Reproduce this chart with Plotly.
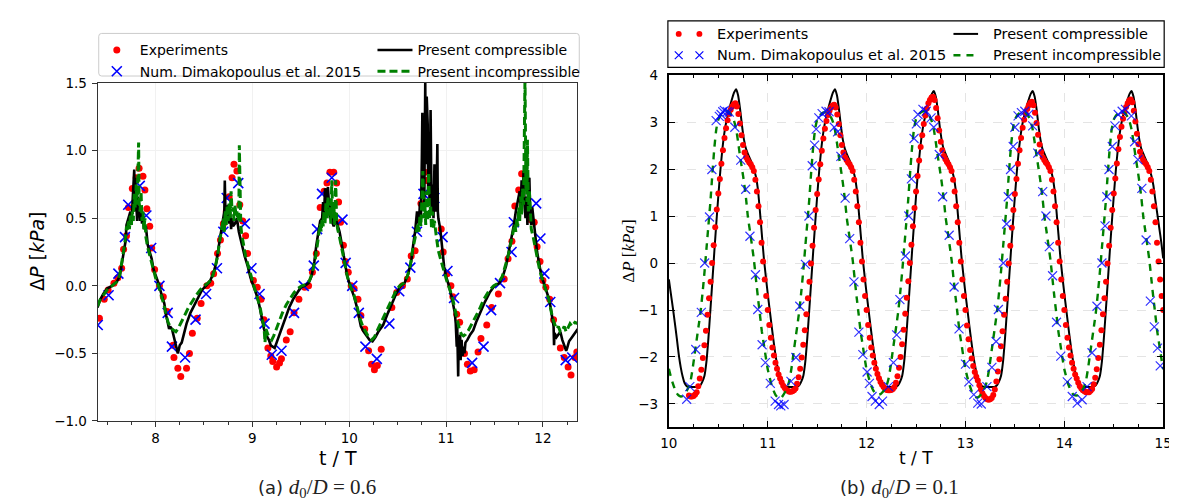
import numpy as np
import plotly.graph_objects as go

W, H = 1177, 503

# ================= panel (a): d0/D = 0.6 =================
exp_a = [(7.42,-0.24),(7.47,-0.10),(7.51,-0.03),(7.57,0.02),(7.61,0.06),(7.65,0.13),(7.67,0.27),(7.70,0.37),
         (7.72,0.58),(7.76,0.72),(7.80,0.80),(7.83,0.87),(7.87,0.81),(7.89,0.71),(7.91,0.57),(7.94,0.44),
         (7.96,0.28),(7.99,0.12),(8.04,0.00),(8.08,-0.08),(8.12,-0.19),(8.18,-0.44),(8.19,-0.53),(8.23,-0.61),
         (8.26,-0.67),(8.32,-0.61),(8.35,-0.50),(8.38,-0.35),(8.43,-0.24),(8.47,-0.13),(8.53,0.00),(8.57,0.02),
         (8.60,0.09),(8.64,0.24),(8.67,0.34),
         (8.70,0.46),(8.73,0.55),(8.76,0.66),(8.79,0.80),(8.81,0.90),(8.84,0.85),(8.87,0.60),(8.90,0.48),
         (8.93,0.37),(8.95,0.24),(9.01,0.04),(9.05,-0.01),(9.09,-0.10),(9.12,-0.25),(9.16,-0.46),(9.19,-0.52),
         (9.21,-0.56),(9.25,-0.60),(9.28,-0.57),(9.30,-0.54),(9.35,-0.40),(9.39,-0.34),(9.43,-0.20),(9.48,-0.10),
         (9.54,-0.01),(9.58,0.00),(9.62,0.10),(9.66,0.24),(9.70,0.58),
         (9.74,0.70),(9.77,0.76),(9.80,0.84),(9.84,0.84),(9.87,0.76),(9.89,0.62),(9.91,0.47),(9.94,0.30),
         (9.96,0.18),(9.99,0.10),(10.02,0.00),(10.05,-0.02),(10.09,-0.10),(10.12,-0.22),(10.16,-0.32),
         (10.20,-0.48),(10.23,-0.58),(10.26,-0.62),(10.29,-0.59),(10.33,-0.47),(10.44,-0.16),(10.49,-0.05),
         (10.55,0.00),(10.60,0.05),(10.64,0.22),(10.68,0.26),
         (10.74,0.61),(10.78,0.84),(10.80,0.78),(10.95,0.42),(10.97,0.25),(11.01,0.09),(11.05,0.00),(11.07,-0.08),
         (11.11,-0.21),(11.14,-0.27),(11.19,-0.50),(11.22,-0.58),(11.25,-0.63),(11.29,-0.62),(11.33,-0.49),
         (11.36,-0.39),(11.42,-0.29),(11.47,-0.16),(11.54,-0.06),(11.60,0.05),(11.64,0.20),(11.68,0.33),
         (11.71,0.59),(11.75,0.71),(11.78,0.83),(11.82,0.82),(11.87,0.49),(11.91,0.47),(11.94,0.29),(11.97,0.18),
         (12.00,0.04),(12.03,-0.01),(12.07,-0.10),(12.11,-0.25),(12.18,-0.46),(12.22,-0.53),(12.26,-0.60),
         (12.29,-0.66),(12.33,-0.53),(12.35,-0.49)]

num_a = [(7.403,-0.29),(7.515,-0.07),(7.616,0.09),(7.684,0.36),(7.718,0.60),(7.837,0.74),(7.905,0.52),
         (7.955,0.28),(8.04,0.0),(8.125,-0.20),(8.169,-0.45),(8.305,-0.53),(8.413,-0.25),(8.522,-0.06),
         (8.634,0.13),(8.70,0.40),(8.735,0.65),(8.854,0.76),(8.922,0.46),(8.99,0.13),(9.074,-0.06),
         (9.125,-0.28),(9.20,-0.51),(9.30,-0.48),(9.43,-0.20),(9.53,0.0),(9.634,0.15),(9.668,0.42),
         (9.719,0.68),(9.82,0.80),(9.93,0.49),(9.963,0.17),(10.031,0.0),(10.099,-0.20),(10.167,-0.45),
         (10.285,-0.54),(10.414,-0.28),(10.516,-0.04),(10.631,0.135),(10.699,0.40),(10.767,0.68),
         (10.879,0.65),(10.964,0.36),(11.014,0.11),(11.082,-0.09),(11.269,-0.57),(11.387,-0.45),
         (11.465,-0.18),(11.557,0.02),(11.676,0.25),(11.70,0.47),(11.93,0.61),(11.974,0.35),(12.015,0.09),
         (12.076,-0.12),(12.235,-0.55),(12.303,-0.53)]

comp_a = [(7.40,-0.16),(7.43,-0.10),(7.46,-0.06),(7.50,-0.02),(7.55,0.00),(7.60,0.03),(7.63,0.07),(7.65,0.15),
          (7.67,0.25),(7.69,0.33),(7.70,0.45),(7.72,0.50),(7.74,0.55),(7.75,0.45),(7.76,0.60),(7.77,0.78),
          (7.78,0.86),(7.785,0.55),(7.79,0.80),(7.80,0.62),(7.81,0.48),(7.815,0.66),(7.82,0.52),(7.83,0.60),
          (7.84,0.48),(7.85,0.55),(7.86,0.46),(7.87,0.52),(7.88,0.42),(7.90,0.44),(7.92,0.30),(7.94,0.25),
          (7.96,0.20),(7.98,0.12),(8.00,0.08),(8.03,0.02),(8.06,-0.06),(8.09,-0.13),(8.11,-0.22),(8.13,-0.30),
          (8.14,-0.32),(8.15,-0.30),(8.17,-0.32),(8.19,-0.38),(8.21,-0.45),(8.23,-0.50),(8.24,-0.47),
          (8.25,-0.44),(8.27,-0.42),(8.29,-0.36),(8.32,-0.28),(8.36,-0.20),(8.40,-0.14),(8.44,-0.08),
          (8.48,-0.03),(8.52,0.00),(8.56,0.03),(8.60,0.10),(8.63,0.18),(8.65,0.28),(8.67,0.38),(8.69,0.45),
          (8.71,0.55),(8.715,0.78),(8.72,0.60),(8.73,0.56),(8.74,0.50),(8.75,0.60),(8.76,0.46),(8.77,0.55),
          (8.78,0.42),(8.79,0.50),(8.80,0.44),(8.82,0.46),(8.84,0.50),(8.86,0.40),(8.88,0.33),(8.90,0.28),
          (8.92,0.22),(8.95,0.15),(8.98,0.06),(9.01,0.00),(9.04,-0.06),(9.07,-0.14),(9.10,-0.25),(9.12,-0.32),
          (9.14,-0.36),(9.17,-0.40),(9.19,-0.44),(9.21,-0.45),(9.23,-0.46),(9.25,-0.42),(9.27,-0.38),
          (9.30,-0.32),(9.34,-0.24),(9.38,-0.16),(9.42,-0.10),(9.46,-0.05),(9.50,-0.01),(9.54,0.00),(9.58,0.02),
          (9.61,0.07),(9.64,0.18),(9.66,0.30),(9.68,0.40),(9.70,0.48),(9.72,0.50),(9.73,0.62),(9.74,0.52),
          (9.75,0.72),(9.76,0.70),(9.77,0.56),(9.78,0.73),(9.79,0.58),(9.80,0.50),(9.81,0.62),(9.82,0.48),
          (9.84,0.44),(9.86,0.50),(9.88,0.45),(9.90,0.40),(9.92,0.32),(9.95,0.20),(9.98,0.07),(10.01,0.00),
          (10.05,-0.08),(10.08,-0.16),(10.12,-0.30),(10.15,-0.34),(10.18,-0.37),(10.21,-0.40),(10.24,-0.41),
          (10.27,-0.38),(10.30,-0.34),(10.35,-0.29),(10.40,-0.20),(10.45,-0.12),(10.49,-0.05),(10.53,0.00),
          (10.57,0.02),(10.61,0.09),(10.64,0.18),(10.66,0.30),(10.68,0.40),(10.70,0.55),(10.72,0.45),
          (10.73,0.62),(10.74,0.50),(10.75,0.95),(10.755,1.28),(10.76,0.70),(10.77,1.10),(10.775,0.60),
          (10.78,1.35),(10.785,1.50),(10.79,0.90),(10.80,1.40),(10.81,1.20),(10.815,0.70),(10.82,1.00),
          (10.83,0.60),(10.84,1.30),(10.845,0.80),(10.85,0.55),(10.86,0.75),(10.87,0.50),(10.88,0.90),
          (10.89,0.55),(10.90,0.60),(10.91,1.05),(10.915,0.55),(10.92,0.50),(10.94,0.42),(10.96,0.25),
          (10.98,0.14),(11.00,0.07),(11.03,0.00),(11.06,-0.09),(11.09,-0.20),(11.10,-0.28),(11.11,-0.45),
          (11.115,-0.30),(11.12,-0.55),(11.125,-0.67),(11.13,-0.38),(11.14,-0.50),(11.145,-0.36),(11.15,-0.55),
          (11.16,-0.40),(11.17,-0.52),(11.18,-0.45),(11.19,-0.50),(11.20,-0.42),(11.22,-0.40),(11.25,-0.36),
          (11.28,-0.33),(11.31,-0.27),(11.35,-0.20),(11.40,-0.12),(11.45,-0.05),(11.50,0.00),(11.55,0.02),
          (11.59,0.08),(11.62,0.15),(11.65,0.26),(11.68,0.36),(11.70,0.45),(11.72,0.55),(11.74,0.62),
          (11.76,0.70),(11.77,0.58),(11.78,0.78),(11.79,0.65),(11.80,0.85),(11.81,0.60),(11.82,0.50),
          (11.83,0.66),(11.84,0.45),(11.85,0.78),(11.86,0.80),(11.87,0.50),(11.88,0.45),(11.89,0.58),
          (11.90,0.50),(11.92,0.38),(11.94,0.25),(11.96,0.16),(11.98,0.09),(12.00,0.04),(12.03,-0.02),
          (12.06,-0.09),(12.08,-0.16),(12.10,-0.25),(12.11,-0.30),(12.115,-0.44),(12.12,-0.35),(12.14,-0.38),
          (12.16,-0.36),(12.18,-0.34),(12.20,-0.40),(12.22,-0.44),(12.24,-0.48),(12.25,-0.46),(12.27,-0.41),
          (12.30,-0.38),(12.33,-0.35),(12.36,-0.32)]

inc_a = [(7.40,-0.15),(7.43,-0.10),(7.46,-0.07),(7.50,-0.03),(7.55,0.00),(7.60,0.03),(7.63,0.08),(7.65,0.16),
         (7.67,0.26),(7.69,0.36),(7.70,0.44),(7.71,0.40),(7.72,0.48),(7.73,0.42),(7.74,0.52),(7.75,0.45),
         (7.76,0.55),(7.77,0.48),(7.78,0.68),(7.79,0.58),(7.80,0.75),(7.81,0.60),(7.825,1.06),(7.83,0.62),
         (7.84,0.55),(7.85,0.70),(7.86,0.48),(7.87,0.55),(7.88,0.42),(7.89,0.50),(7.90,0.36),(7.92,0.28),
         (7.94,0.22),(7.96,0.16),(7.98,0.10),(8.00,0.06),(8.03,0.00),(8.06,-0.07),(8.09,-0.15),(8.11,-0.22),
         (8.13,-0.27),(8.15,-0.30),(8.17,-0.32),(8.19,-0.33),(8.21,-0.34),(8.23,-0.32),(8.26,-0.28),
         (8.30,-0.22),(8.34,-0.16),(8.38,-0.11),(8.42,-0.07),(8.46,-0.03),(8.50,0.00),(8.54,0.02),(8.58,0.05),
         (8.61,0.12),(8.64,0.22),(8.66,0.32),(8.68,0.42),(8.70,0.50),(8.71,0.40),(8.72,0.56),(8.73,0.45),
         (8.74,0.60),(8.75,0.48),(8.76,0.62),(8.77,0.50),(8.78,0.70),(8.79,0.55),(8.80,0.58),(8.81,0.48),
         (8.82,0.60),(8.83,0.52),(8.84,0.55),(8.85,0.48),(8.86,0.52),(8.865,1.04),(8.875,0.50),(8.88,0.45),
         (8.89,0.38),(8.91,0.30),(8.93,0.22),(8.96,0.14),(8.99,0.06),(9.02,-0.01),(9.05,-0.08),(9.08,-0.16),
         (9.10,-0.24),(9.12,-0.30),(9.13,-0.42),(9.14,-0.32),(9.16,-0.36),(9.18,-0.38),(9.20,-0.40),
         (9.22,-0.37),(9.24,-0.33),(9.27,-0.27),(9.31,-0.20),(9.35,-0.14),(9.39,-0.09),(9.43,-0.05),
         (9.47,-0.02),(9.51,0.00),(9.55,0.01),(9.59,0.04),(9.62,0.10),(9.65,0.20),(9.67,0.30),(9.69,0.40),
         (9.70,0.46),(9.71,0.40),(9.72,0.50),(9.73,0.44),(9.74,0.56),(9.75,0.46),(9.76,0.62),(9.77,0.50),
         (9.78,0.66),(9.79,0.52),(9.80,0.58),(9.81,0.46),(9.82,0.78),(9.83,0.50),(9.84,0.62),(9.85,0.45),
         (9.86,0.78),(9.87,0.48),(9.88,0.42),(9.90,0.36),(9.92,0.28),(9.95,0.18),(9.98,0.07),(10.01,0.00),
         (10.05,-0.07),(10.08,-0.15),(10.11,-0.24),(10.14,-0.30),(10.17,-0.34),(10.20,-0.38),(10.23,-0.40),
         (10.26,-0.38),(10.29,-0.33),(10.33,-0.27),(10.38,-0.19),(10.43,-0.11),(10.48,-0.04),(10.52,0.00),
         (10.56,0.02),(10.60,0.07),(10.63,0.15),(10.65,0.25),(10.67,0.33),(10.69,0.40),(10.71,0.46),
         (10.72,0.40),(10.73,0.52),(10.74,0.44),(10.75,0.60),(10.76,0.85),(10.77,0.50),(10.78,0.62),
         (10.79,0.45),(10.80,0.70),(10.81,0.48),(10.82,0.84),(10.83,0.50),(10.84,0.60),(10.85,0.42),
         (10.86,0.55),(10.87,0.42),(10.88,0.48),(10.90,0.36),(10.92,0.26),(10.95,0.18),(10.98,0.10),
         (11.01,0.03),(11.04,-0.03),(11.07,-0.10),(11.10,-0.20),(11.12,-0.28),(11.14,-0.33),(11.16,-0.36),
         (11.18,-0.37),(11.20,-0.36),(11.23,-0.33),(11.26,-0.29),(11.30,-0.24),(11.34,-0.18),(11.39,-0.10),
         (11.44,-0.04),(11.49,0.00),(11.54,0.02),(11.58,0.07),(11.61,0.14),(11.64,0.22),(11.67,0.32),
         (11.69,0.40),(11.71,0.46),(11.72,0.40),(11.73,0.50),(11.74,0.44),(11.75,0.58),(11.76,0.48),
         (11.77,0.66),(11.78,0.52),(11.79,0.72),(11.80,0.60),(11.81,1.20),(11.815,1.55),(11.82,1.10),
         (11.825,0.70),(11.83,1.00),(11.835,0.62),(11.84,1.08),(11.85,0.55),(11.86,0.70),(11.87,0.48),
         (11.88,0.42),(11.90,0.36),(11.92,0.28),(11.94,0.20),(11.96,0.14),(11.98,0.08),(12.00,0.03),
         (12.03,-0.03),(12.06,-0.10),(12.08,-0.18),(12.10,-0.24),(12.12,-0.28),(12.14,-0.32),(12.16,-0.30),
         (12.18,-0.34),(12.20,-0.33),(12.22,-0.30),(12.24,-0.34),(12.26,-0.31),(12.28,-0.28),(12.30,-0.30),
         (12.33,-0.27),(12.36,-0.28)]

# ================= panel (b): d0/D = 0.1 =================
# experiments: 64 samples per period, first sample at t/T = 10 + 13/64
exp_b_start, exp_b_step = 10.0 + 13 / 64, 1 / 64
exp_b_c10 = [-2.82,-2.84,-2.84,-2.83,-2.80,-2.75,-2.62,
             -2.46,-2.27,-2.02,-1.75,-1.44,-1.10,-0.75,-0.40,0.00,0.38,
             0.76,1.14,1.48,1.79,2.11,2.40,2.66,2.87,3.04,3.17,
             3.26,3.33,3.38,3.40,3.33,3.17,2.97,2.72,2.51,2.35,
             2.25,2.19,2.14,2.10,2.04,1.96,1.77,1.52,1.21,0.87,
             0.43,0.03,-0.35,-0.70]
exp_b_c11 = [-1.00,-1.32,-1.59,-1.80,-1.97,-2.12,-2.25,-2.37,-2.46,-2.54,
             -2.61,-2.66,-2.70,-2.72,-2.74,-2.74,-2.73,-2.71,-2.67,-2.57,
             -2.43,-2.25,-2.01,-1.74,-1.43,-1.09,-0.75,-0.40,-0.01,0.37,
             0.75,1.13,1.47,1.78,2.10,2.39,2.65,2.86,3.02,3.15,
             3.24,3.31,3.35,3.37,3.31,3.16,2.96,2.72,2.51,2.35,
             2.25,2.19,2.14,2.10,2.04,1.96,1.77,1.52,1.21,0.87,
             0.43,0.03,-0.35,-0.70]
exp_b_c12 = [-1.00,-1.32,-1.59,-1.80,-1.97,-2.12,-2.25,-2.36,-2.45,-2.53,
             -2.59,-2.64,-2.68,-2.70,-2.71,-2.71,-2.70,-2.68,-2.64,-2.55,
             -2.41,-2.23,-2.00,-1.73,-1.42,-1.08,-0.74,-0.39,0.00,0.39,
             0.78,1.17,1.52,1.85,2.18,2.47,2.72,2.96,3.14,3.29,
             3.40,3.47,3.52,3.54,3.47,3.30,3.08,2.82,2.58,2.40,
             2.28,2.21,2.15,2.10,2.04,1.96,1.77,1.52,1.21,0.87,
             0.43,0.03,-0.35,-0.70]
exp_b_c13 = [-1.00,-1.33,-1.62,-1.85,-2.03,-2.19,-2.32,-2.42,-2.50,-2.60,
             -2.69,-2.77,-2.83,-2.87,-2.90,-2.91,-2.90,-2.87,-2.81,-2.69,
             -2.52,-2.31,-2.05,-1.77,-1.45,-1.10,-0.76,-0.40,-0.01,0.37,
             0.75,1.13,1.47,1.79,2.11,2.40,2.66,2.88,3.05,3.18,
             3.28,3.36,3.41,3.43,3.36,3.20,2.98,2.73,2.52,2.36,
             2.25,2.19,2.14,2.10,2.04,1.96,1.77,1.52,1.21,0.87,
             0.43,0.03,-0.35,-0.70]
exp_b_c14 = [-1.00,-1.32,-1.59,-1.80,-1.97,-2.12,-2.25,-2.37,-2.46,-2.55,
             -2.62,-2.67,-2.71,-2.73,-2.75,-2.75,-2.75,-2.72,-2.68,-2.58,
             -2.44,-2.26,-2.02,-1.74,-1.43,-1.09,-0.75,-0.40,-0.01,0.37,
             0.75,1.13,1.48,1.80,2.12,2.42,2.68,2.90,3.07,3.21,
             3.32,3.40,3.46,3.48,3.42,3.24,3.01,2.75,2.53,2.37,
             2.26,2.19,2.14,2.10,2.04,1.96,1.77,1.52,1.21,0.87,
             0.43,0.03,-0.35,-0.70]
exp_b_end = [-1.00]

# simulations, sampled every 0.02 t/T starting at t/T = 10.00
sim_b_start, sim_b_step = 10.00, 0.02
comp_b_c10 = [-0.35,-0.65,-0.95,-1.27,-1.60,-1.95,-2.22,-2.42,-2.56,-2.62,-2.64,-2.64,-2.64,-2.64,-2.64,-2.63,-2.60,-2.52,-2.40,-2.10,
              -1.60,-1.00,-0.38,0.25,0.85,1.42,1.95,2.40,2.75,3.00,3.18,3.35,3.50,3.63,3.70,3.57,3.28,2.92,2.62,2.43,
              2.32,2.22,2.12,2.00,1.84,1.58,1.12,0.62,0.12,-0.28]
comp_b_c11 = [-0.65,-1.00,-1.35,-1.68,-1.98,-2.22,-2.42,-2.55,-2.61,-2.63,-2.64,-2.64,-2.64,-2.64,-2.64,-2.63,-2.60,-2.52,-2.40,-2.10,
              -1.60,-1.00,-0.38,0.25,0.85,1.42,1.95,2.40,2.75,3.00,3.18,3.35,3.50,3.63,3.70,3.57,3.28,2.92,2.62,2.43,
              2.32,2.22,2.12,2.00,1.84,1.58,1.12,0.62,0.12,-0.28]
comp_b_c12 = [-0.65,-1.00,-1.35,-1.68,-1.98,-2.22,-2.42,-2.55,-2.61,-2.63,-2.64,-2.64,-2.64,-2.64,-2.64,-2.63,-2.60,-2.52,-2.40,-2.10,
              -1.60,-1.00,-0.38,0.25,0.85,1.42,1.95,2.40,2.75,3.00,3.18,3.34,3.48,3.60,3.66,3.54,3.26,2.90,2.61,2.42,
              2.32,2.22,2.12,2.00,1.84,1.58,1.12,0.62,0.12,-0.28]
comp_b_c13 = [-0.65,-1.00,-1.35,-1.68,-1.98,-2.22,-2.42,-2.55,-2.61,-2.63,-2.64,-2.64,-2.64,-2.64,-2.64,-2.63,-2.60,-2.52,-2.40,-2.10,
              -1.60,-1.00,-0.38,0.25,0.85,1.42,1.95,2.40,2.75,3.00,3.18,3.34,3.48,3.60,3.66,3.54,3.26,2.90,2.61,2.42,
              2.32,2.22,2.12,2.00,1.84,1.58,1.12,0.62,0.12,-0.28]
comp_b_c14 = [-0.65,-1.00,-1.35,-1.68,-1.98,-2.22,-2.42,-2.55,-2.61,-2.63,-2.64,-2.64,-2.64,-2.64,-2.64,-2.63,-2.60,-2.52,-2.40,-2.10,
              -1.60,-1.00,-0.38,0.25,0.85,1.42,1.95,2.40,2.75,3.00,3.18,3.34,3.48,3.60,3.66,3.54,3.26,2.90,2.61,2.42,
              2.32,2.22,2.12,2.00,1.86,1.66,1.35,1.05,0.75,0.45]
comp_b_end = [0.10]

inc_b_c10 = [-2.25,-2.42,-2.56,-2.68,-2.77,-2.82,-2.84,-2.83,-2.78,-2.72,-2.64,-2.50,-2.25,-1.95,-1.65,-1.35,-1.05,-0.65,-0.20,0.30,
             0.80,1.30,1.90,2.45,2.85,3.05,3.13,3.18,3.21,3.23,3.22,3.18,3.12,3.02,2.85,2.58,2.27,2.00,1.72,1.38,
             0.97,0.68,0.38,0.07,-0.33,-0.72,-1.08,-1.45,-1.72,-2.00]
inc_b_c11 = [-2.26,-2.44,-2.60,-2.72,-2.81,-2.86,-2.88,-2.86,-2.80,-2.73,-2.64,-2.49,-2.24,-1.93,-1.62,-1.32,-1.00,-0.60,-0.15,0.35,
             0.85,1.35,1.95,2.48,2.86,3.05,3.13,3.17,3.20,3.21,3.20,3.16,3.10,3.00,2.83,2.56,2.26,1.99,1.70,1.36,
             0.95,0.66,0.36,0.05,-0.35,-0.74,-1.10,-1.47,-1.74,-2.02]
inc_b_c12 = [-2.27,-2.43,-2.57,-2.68,-2.75,-2.79,-2.80,-2.79,-2.75,-2.70,-2.62,-2.48,-2.24,-1.94,-1.64,-1.34,-1.03,-0.63,-0.18,0.32,
             0.82,1.32,1.92,2.46,2.86,3.06,3.14,3.19,3.22,3.23,3.21,3.17,3.11,3.01,2.84,2.57,2.27,2.00,1.71,1.37,
             0.96,0.67,0.37,0.06,-0.34,-0.73,-1.09,-1.46,-1.73,-2.01]
inc_b_c13 = [-2.26,-2.44,-2.59,-2.71,-2.80,-2.85,-2.86,-2.84,-2.79,-2.72,-2.63,-2.49,-2.24,-1.94,-1.63,-1.33,-1.02,-0.62,-0.17,0.33,
             0.83,1.33,1.93,2.47,2.86,3.05,3.13,3.18,3.21,3.22,3.21,3.17,3.11,3.01,2.84,2.57,2.27,2.00,1.71,1.37,
             0.96,0.67,0.37,0.06,-0.34,-0.73,-1.09,-1.46,-1.73,-2.01]
inc_b_c14 = [-2.26,-2.43,-2.58,-2.69,-2.77,-2.81,-2.82,-2.81,-2.77,-2.71,-2.63,-2.49,-2.24,-1.94,-1.64,-1.34,-1.03,-0.63,-0.18,0.32,
             0.82,1.32,1.92,2.46,2.86,3.05,3.13,3.18,3.21,3.22,3.21,3.17,3.11,3.01,2.84,2.57,2.27,2.00,1.71,1.37,
             0.96,0.67,0.37,0.06,-0.34,-0.73,-1.09,-1.46,-1.73,-2.01]
inc_b_end = [-2.26]

num_b_t = [10.18,10.212,10.272,10.328,10.362,10.411,10.435,10.478,10.51,10.528,10.545,10.561,10.59,10.611,10.667,
           10.727,10.777,10.82,10.876,10.899,10.943,10.976,
           11.026,11.075,11.109,11.132,11.165,11.235,11.285,11.324,11.381,11.417,11.45,11.474,11.49,11.517,11.55,
           11.59,11.62,11.673,11.706,11.74,11.783,11.829,11.872,11.922,11.962,
           12.005,12.028,12.055,12.088,12.128,12.161,12.221,12.271,12.304,12.337,12.393,12.427,12.453,12.48,12.503,
           12.52,12.57,12.603,12.652,12.679,12.735,12.769,12.835,12.885,12.935,
           13.0,13.034,13.084,13.124,13.16,13.217,13.267,13.31,13.333,13.383,13.416,13.433,13.456,13.483,13.5,
           13.532,13.566,13.6,13.64,13.68,13.731,13.781,13.814,13.848,13.881,13.921,13.964,
           14.03,14.08,14.13,14.18,14.23,14.28,14.33,14.38,14.412,14.43,14.452,14.485,14.512,14.545,14.585,14.618,
           14.678,14.711,14.744,14.784,14.827,14.87,14.91,14.943,14.97]
num_b_y = [-2.90,-2.63,-1.84,-1.05,0.00,0.98,1.99,3.03,3.12,3.16,3.22,3.25,3.22,3.21,2.89,
           2.19,1.57,0.57,-0.25,-0.99,-1.74,-2.12,
           -2.56,-2.94,-3.01,-3.04,-3.01,-2.52,-2.01,-0.92,-0.03,1.00,2.07,2.51,2.85,3.09,3.18,
           3.23,3.22,2.89,2.79,2.27,1.38,0.52,-0.40,-1.47,-1.95,
           -2.32,-2.56,-2.84,-2.94,-3.01,-2.94,-2.63,-2.12,-1.53,-0.78,0.15,1.00,1.79,2.65,2.96,
           3.16,3.27,3.23,3.09,2.89,2.31,1.41,0.59,-0.51,-1.40,
           -2.15,-2.53,-2.80,-2.98,-3.00,-2.63,-2.22,-1.67,-0.99,0.00,0.83,1.41,1.99,2.48,2.89,
           3.13,3.20,3.23,3.17,2.92,2.34,1.52,1.00,0.35,-0.27,-1.26,-1.98,
           -2.53,-2.84,-2.98,-2.91,-2.63,-1.91,-0.92,0.00,0.79,1.41,1.99,2.48,2.92,3.16,3.23,3.27,
           3.13,2.58,2.20,1.59,0.49,-0.81,-1.36,-1.81,-2.19]

ticks_a_x = [8, 9, 10, 11, 12]
ticks_a_y = [-1.0, -0.5, 0.0, 0.5, 1.0, 1.5]
ticks_b_x = [10, 11, 12, 13, 14, 15]
ticks_b_y = [-3, -2, -1, 0, 1, 2, 3, 4]

names = ["Experiments", "Num. Dimakopoulus et al. 2015", "Present compressible", "Present incompressible"]

# ---------------- assemble ----------------
def unzip(pairs):
    return [p[0] for p in pairs], [p[1] for p in pairs]

exp_b_y = exp_b_c10 + exp_b_c11 + exp_b_c12 + exp_b_c13 + exp_b_c14 + exp_b_end
exp_b_t = exp_b_start + exp_b_step * np.arange(len(exp_b_y))
comp_b_y = comp_b_c10 + comp_b_c11 + comp_b_c12 + comp_b_c13 + comp_b_c14 + comp_b_end
inc_b_y = inc_b_c10 + inc_b_c11 + inc_b_c12 + inc_b_c13 + inc_b_c14 + inc_b_end
sim_b_t = np.round(sim_b_start + sim_b_step * np.arange(len(comp_b_y)), 3)

RED, BLUE, GREEN, BLACK = "#ff0000", "#0000ff", "#008000", "#000000"
SANS = "DejaVu Sans"
SERIF = "Liberation Serif"

fig = go.Figure()

# panel (a)
t, y = unzip(exp_a)
fig.add_trace(go.Scatter(x=t, y=y, mode="markers", name=names[0], legend="legend",
                         marker=dict(color=RED, size=7), xaxis="x", yaxis="y"))
t, y = unzip(num_a)
fig.add_trace(go.Scatter(x=t, y=y, mode="markers", name=names[1], legend="legend",
                         marker=dict(symbol="x-thin", size=10, line=dict(color=BLUE, width=1.6)),
                         xaxis="x", yaxis="y"))
t, y = unzip(comp_a)
fig.add_trace(go.Scatter(x=t, y=y, mode="lines", name=names[2], legend="legend2",
                         line=dict(color=BLACK, width=2.6), xaxis="x", yaxis="y"))
t, y = unzip(inc_a)
fig.add_trace(go.Scatter(x=t, y=y, mode="lines", name=names[3], legend="legend2",
                         line=dict(color=GREEN, width=3, dash="8px,4px"), xaxis="x", yaxis="y"))

# panel (b)  (its legend is drawn by hand below, with two markers per entry)
fig.add_trace(go.Scatter(x=sim_b_t, y=comp_b_y, mode="lines", name=names[2], showlegend=False,
                         line=dict(color=BLACK, width=2, shape="spline", smoothing=0.6), xaxis="x2", yaxis="y2"))
fig.add_trace(go.Scatter(x=exp_b_t, y=exp_b_y, mode="markers", name=names[0], showlegend=False,
                         marker=dict(color=RED, size=6), xaxis="x2", yaxis="y2"))
fig.add_trace(go.Scatter(x=sim_b_t, y=inc_b_y, mode="lines", name=names[3], showlegend=False,
                         line=dict(color=GREEN, width=2.4, dash="7px,6px", shape="spline", smoothing=0.6),
                         xaxis="x2", yaxis="y2"))
fig.add_trace(go.Scatter(x=num_b_t, y=num_b_y, mode="markers", name=names[1], showlegend=False,
                         marker=dict(symbol="x-thin", size=9, line=dict(color="rgba(0,0,255,0.8)", width=1.2)),
                         xaxis="x2", yaxis="y2"))

def px_x(p):
    return p / W

def px_y(p):
    return 1 - p / H

tickfont = dict(family=SANS, size=13.5, color="#000")
legfont = dict(family=SANS, size=14, color="#000")
fig.update_layout(
    width=W, height=H, margin=dict(l=0, r=0, t=0, b=0),
    paper_bgcolor="white", plot_bgcolor="white", showlegend=True,
    xaxis=dict(domain=[px_x(82), px_x(569)], range=[7.403, 12.355], tickvals=ticks_a_x,
               ticks="outside", ticklen=5, tickwidth=1, tickcolor="#333", showline=True, linecolor="#333",
               linewidth=1.2, mirror=True, showgrid=True, gridcolor="#f1f1f1", zeroline=False,
               tickfont=tickfont, anchor="y",
               minor=dict(dtick=0.25, tick0=0, ticks="outside", ticklen=3, tickcolor="#333", showgrid=False)),
    yaxis=dict(domain=[px_y(418.3), px_y(69.3)], range=[-1.0, 1.5], tickvals=ticks_a_y,
               ticktext=["\u22121.0", "\u22120.5", "0.0", "0.5", "1.0", "1.5"],
               ticks="outside", ticklen=5, tickwidth=1, tickcolor="#333", showline=True, linecolor="#333",
               linewidth=1.2, mirror=True, showgrid=True, gridcolor="#f1f1f1", zeroline=False,
               tickfont=tickfont, anchor="x", ticklabelstandoff=2),
    xaxis2=dict(domain=[px_x(662), px_x(1164)], range=[10, 15], tickvals=ticks_b_x,
                ticks="inside", ticklen=6, tickwidth=1, tickcolor="#000", showline=True, linecolor="#000",
                linewidth=2, mirror="ticks", showgrid=True, gridcolor="#e4e4e4", griddash="dash", zeroline=False,
                tickfont=tickfont, anchor="y2", ticklabelstandoff=2,
                minor=dict(dtick=0.25, tick0=0, ticks="inside", ticklen=3, tickcolor="#000", showgrid=False)),
    yaxis2=dict(domain=[px_y(425), px_y(61)], range=[-3.5, 4], tickvals=ticks_b_y,
                ticktext=["\u22123", "\u22122", "\u22121", "0", "1", "2", "3", "4"],
                ticks="inside", ticklen=6, tickwidth=1, tickcolor="#000", showline=True, linecolor="#000",
                linewidth=2, mirror="ticks", showgrid=True, gridcolor="#e4e4e4", griddash="dash", zeroline=False,
                tickfont=tickfont, anchor="x2", ticklabelstandoff=6),
    legend=dict(x=px_x(78), y=px_y(19), xanchor="left", yanchor="top", orientation="v", itemwidth=36,
                bgcolor="rgba(0,0,0,0)", borderwidth=0, font=legfont, tracegroupgap=0),
    legend2=dict(x=px_x(361), y=px_y(19), xanchor="left", yanchor="top", orientation="v", itemwidth=35,
                 bgcolor="rgba(0,0,0,0)", borderwidth=0, font=legfont, tracegroupgap=0),
)

# legend frame of panel (a)
def rounded_rect(x0, y0, x1, y1, r):
    X0, X1 = px_x(x0), px_x(x1)
    Y0, Y1 = px_y(y0), px_y(y1)
    rx, ry = r / W, r / H
    return (f"M {X0+rx},{Y0} L {X1-rx},{Y0} Q {X1},{Y0} {X1},{Y0-ry} L {X1},{Y1+ry} "
            f"Q {X1},{Y1} {X1-rx},{Y1} L {X0+rx},{Y1} Q {X0},{Y1} {X0},{Y1+ry} L {X0},{Y0-ry} "
            f"Q {X0},{Y0} {X0+rx},{Y0} Z")

fig.add_shape(type="path", path=rounded_rect(83, 18, 571, 62, 3), xref="paper", yref="paper",
              line=dict(color="#cccccc", width=1), fillcolor="rgba(255,255,255,0.8)", layer="below")

# legend of panel (b): frame, symbols (two markers per entry) and labels
fig.add_shape(type="rect", x0=px_x(661), x1=px_x(1165), y0=px_y(5), y1=px_y(53), xref="paper", yref="paper",
              line=dict(color="#000", width=1.2), fillcolor="white", layer="below")
row1, row2 = 18.5, 40.5
for cx in (672, 693):
    fig.add_shape(type="circle", xref="paper", yref="paper",
                  x0=px_x(cx - 3), x1=px_x(cx + 3), y0=px_y(row1 + 3), y1=px_y(row1 - 3),
                  line=dict(color=RED, width=0), fillcolor=RED)
    d = 4
    fig.add_shape(type="path", xref="paper", yref="paper",
                  path=(f"M {px_x(cx-d)},{px_y(row2-d)} L {px_x(cx+d)},{px_y(row2+d)} "
                        f"M {px_x(cx-d)},{px_y(row2+d)} L {px_x(cx+d)},{px_y(row2-d)}"),
                  line=dict(color=BLUE, width=1.2))
fig.add_shape(type="line", xref="paper", yref="paper", x0=px_x(951), x1=px_x(976), y0=px_y(row1), y1=px_y(row1),
              line=dict(color=BLACK, width=2))
fig.add_shape(type="line", xref="paper", yref="paper", x0=px_x(951), x1=px_x(976), y0=px_y(row2), y1=px_y(row2),
              line=dict(color=GREEN, width=2.4, dash="7px,6px"))

ann = []
legfont_b = dict(family=SANS, size=14.5, color="#000")
for txt, x, yy in [(names[0], 709, row1), (names[1], 709, row2), (names[2], 989, row1), (names[3], 989, row2)]:
    ann.append(dict(x=px_x(x), y=px_y(yy), text=txt, font=legfont_b, xanchor="left"))

# axis titles and captions
ann.append(dict(x=px_x(325.5), y=px_y(457), text="t / T", font=dict(family=SANS, size=19, color="#000")))
ann.append(dict(x=px_x(21), y=px_y(243), text="\u0394<i>P</i> [<i>kPa</i>]", textangle=-90,
                font=dict(family=SANS, size=19, color="#000")))
ann.append(dict(x=px_x(913), y=px_y(457), text="t / T", font=dict(family=SANS, size=17, color="#000")))
ann.append(dict(x=px_x(621), y=px_y(243), text="\u0394<i>P</i> [<i>kPa</i>]", textangle=-90,
                font=dict(family=SERIF, size=17, color="#000")))
ann.append(dict(x=px_x(305), y=px_y(488),
                text="(a) <span style=\"font-family:Liberation Serif;font-size:21px\"><i>d</i><sub>0</sub>/<i>D</i> = 0.6</span>",
                font=dict(family=SANS, size=18, color="#222")))
ann.append(dict(x=px_x(896), y=px_y(488),
                text="(b) <span style=\"font-family:Liberation Serif;font-size:21px\"><i>d</i><sub>0</sub>/<i>D</i> = 0.1</span>",
                font=dict(family=SANS, size=18, color="#222")))
for a in ann:
    a.update(xref="paper", yref="paper", showarrow=False, yanchor="middle")
    a.setdefault("xanchor", "center")
    fig.add_annotation(**a)

fig.write_html("out.html")
